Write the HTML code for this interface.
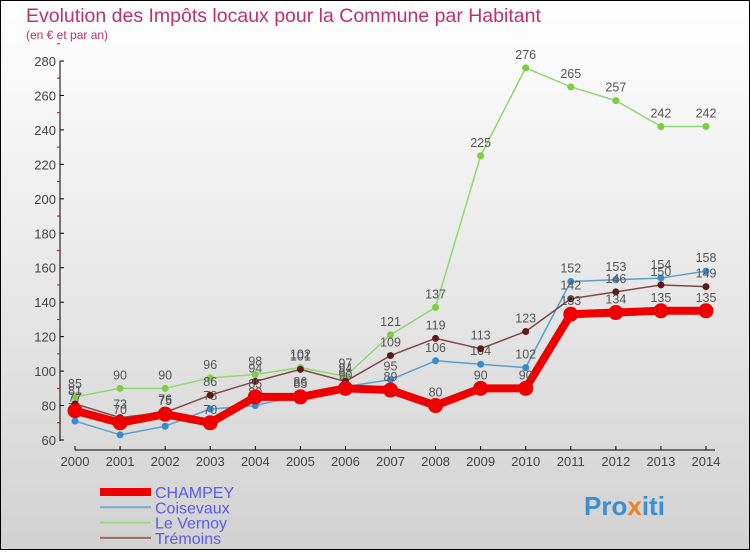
<!DOCTYPE html>
<html><head><meta charset="utf-8"><style>
html,body{margin:0;padding:0}
body{width:750px;height:550px;overflow:hidden;font-family:"Liberation Sans",sans-serif}
</style></head><body>
<svg id="chart" width="750" height="550" xmlns="http://www.w3.org/2000/svg">
<defs><linearGradient id="bg" x1="0" y1="0" x2="0" y2="1"><stop offset="0" stop-color="#ffffff"/><stop offset="1" stop-color="#d2d2d2"/></linearGradient></defs>
<rect x="0.5" y="0.5" width="749" height="549" fill="url(#bg)" stroke="#000"/>
<text x="26" y="22" font-size="19.5" fill="#c0306a">Evolution des Impôts locaux pour la Commune par Habitant</text>
<text x="26" y="39" font-size="12" fill="#c0306a">(en € et par an)</text>
<g id="axes"></g><g id="series"></g><g id="legend"></g>
<text x="584" y="515" font-size="26" font-weight="bold" fill="#3a8fd0">Pro<tspan fill="#f08020">x</tspan>iti</text>
</svg>
<script>
const years=[2000,2001,2002,2003,2004,2005,2006,2007,2008,2009,2010,2011,2012,2013,2014];
const champey=[77,70,75,70,85,85,90,89,80,90,90,133,134,135,135];
const coisevaux=[71,63,68,78,80,86,91,95,106,104,102,152,153,154,158];
const vernoy=[85,90,90,96,98,102,97,121,137,225,276,265,257,242,242];
const tremoins=[81,73,76,86,94,101,94,109,119,113,123,142,146,150,149];
const yTicks=[60,80,100,120,140,160,180,200,220,240,260,280];
const NS="http://www.w3.org/2000/svg";
const x=i=>75+i*(706-75)/14;
const y=v=>440-(v-60)*(379/220);
function mk(tag,attrs,parent){const e=document.createElementNS(NS,tag);for(const k in attrs)e.setAttribute(k,attrs[k]);parent.appendChild(e);return e;}
const axes=document.getElementById('axes');
let a=mk('line',{x1:60,y1:y(280),x2:60,y2:y(60)+1,stroke:'#000'},axes);


yTicks.forEach(t=>{
  mk('line',{x1:60,y1:y(t),x2:64,y2:y(t),stroke:'#000'},axes);
  mk('line',{x1:57,y1:y(t+10),x2:60,y2:y(t+10),stroke:'#e00'},axes);
  const tx=mk('text',{x:56,y:y(t)+5,'font-size':13,fill:'#444','text-anchor':'end'},axes);
  tx.textContent=t;
  
  
});
let xa=mk('line',{x1:75,y1:450,x2:715,y2:450,stroke:'#000'},axes);


years.forEach((yr,i)=>{
  mk('line',{x1:x(i),y1:446,x2:x(i),y2:450,stroke:'#000'},axes);
  const tx=mk('text',{x:x(i),y:466,'font-size':13,fill:'#444','text-anchor':'middle'},axes);
  tx.textContent=yr;
  
  
});
const sg=document.getElementById('series');
const defs=[
 {name:'coisevaux',data:coisevaux,col:'#5a9fd0',pt:'#3a8ad0',w:1.5,r:3.5},
 {name:'le-vernoy',data:vernoy,col:'#90d870',pt:'#78d040',w:1.5,r:3.5},
 {name:'tremoins',data:tremoins,col:'#804848',pt:'#601818',w:1.5,r:3.5},
 {name:'champey',data:champey,col:'#ee0000',pt:'#ee0000',w:8,r:7.5}
];
defs.forEach(s=>{
  const g=mk('g',{},sg);
  
  
  const pl=mk('polyline',{points:s.data.map((v,i)=>x(i)+','+y(v)).join(' '),fill:'none',stroke:s.col,'stroke-width':s.w,'stroke-linejoin':'round'},g);
  
  
  s.data.forEach((v,i)=>{
    const c=mk('circle',{cx:x(i),cy:y(v),r:s.r,fill:s.pt},g);
    
    
    const t=mk('text',{x:x(i),y:y(v)-9,'font-size':12.5,fill:'#555','text-anchor':'middle'},g);
    t.textContent=v;
    
    
  });
});
const lg=document.getElementById('legend');
const leg=[['CHAMPEY','#ee0000',8,'champey'],['Coisevaux','#7aaad0',2,'coisevaux'],['Le Vernoy','#a0d880',2,'le-vernoy'],['Trémoins','#9a6868',2,'tremoins']];
leg.forEach((l,i)=>{
  const yy=492+i*15.3;
  const ln=mk('line',{x1:100,y1:yy,x2:151,y2:yy,stroke:l[1],'stroke-width':l[2]},lg);
  
  
  const t=mk('text',{x:155,y:yy+6,'font-size':16,fill:'#5a5aee'},lg);
  t.textContent=l[0];
  
  
});
</script>
</body></html>
